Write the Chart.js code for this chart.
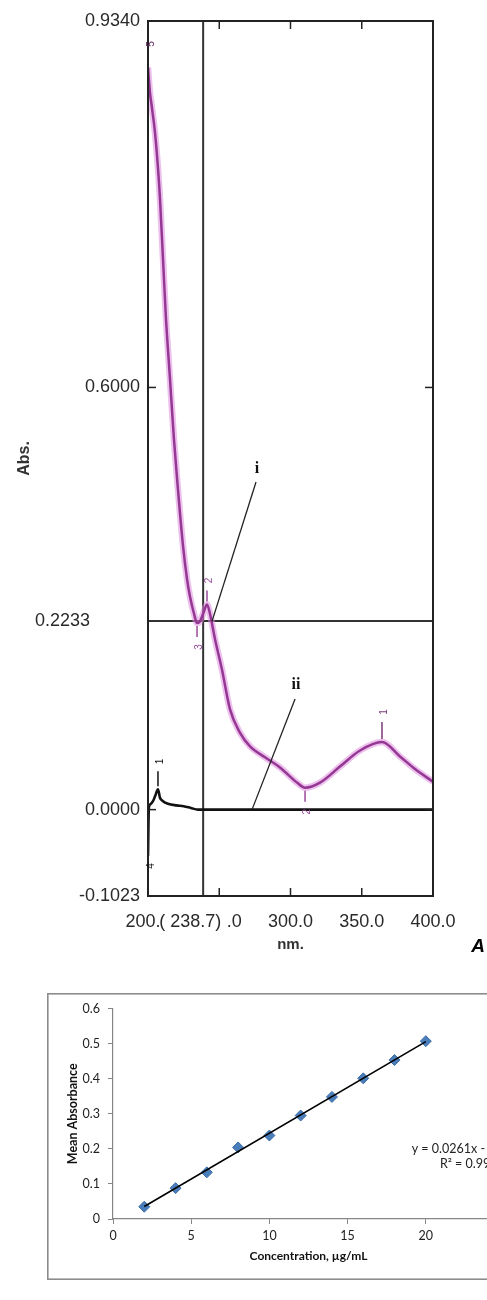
<!DOCTYPE html>
<html><head><meta charset="utf-8">
<script src="https://cdn.jsdelivr.net/npm/chart.js@4.4.1/dist/chart.umd.min.js"></script>
<style>
html,body{margin:0;padding:0;background:#fff;overflow:hidden;width:487px;height:1300px;position:relative;}
#c1{position:absolute;left:0;top:0;}
#c2{position:absolute;left:47px;top:993px;}
</style></head><body>
<canvas id="c1" width="487" height="960"></canvas>
<canvas id="c2" width="530" height="288"></canvas>
<script>
// ---------- Panel A: UV spectrum ----------
const specWavelength = [200.0,201.4,202.8,204.9,207.0,208.4,210.5,212.6,215.4,218.2,220.4,224.6,227.4,229.5,232.3,234.4,236.5,239.3,241.4,243.5,247.0,251.9,257.5,264.6,271.6,282.1,292.6,304.6,310.2,320.7,334.7,348.8,364.2,376.8,387.4,400.0];
const specSampleAbs  = [0.879,0.849,0.831,0.802,0.760,0.724,0.653,0.582,0.511,0.439,0.392,0.312,0.273,0.252,0.232,0.221,0.223,0.235,0.243,0.232,0.202,0.166,0.119,0.091,0.075,0.062,0.050,0.032,0.026,0.032,0.051,0.070,0.080,0.063,0.048,0.033];
const blankWavelength = [200.0,200.6,201.4,203.5,205.0,207.0,208.4,210.5,214.0,220.0,225.0,230.0,235.0,250.0,300.0,350.0,400.0];
const blankAbs        = [-0.055,0.002,0.006,0.010,0.016,0.024,0.014,0.010,0.007,0.005,0.004,0.002,0.000,0.000,0.000,0.000,0.000];
const specXTickValues = [200,250,300,350,400];
const specXTickLabels = ['200.0','250.0','300.0','350.0','400.0'];
const specYTickValues = [-0.1023,0,0.5,0.934];
const specYTickLabels = ['-0.1023','0.0000','0.6000','0.9340'];
const cursorWavelength = 238.7;
const cursorAbs = 0.2233;
const cursorXLabel = '( 238.7)';
const cursorYLabel = '0.2233';
const peakPicks = [
  {nm:200.6, abs:0.895, label:'5', dir:-1, color:'#6a2a6a', len:0},
  {nm:234.4, abs:0.221, label:'3', dir:1,  color:'#9a4a9a', len:14},
  {nm:241.4, abs:0.243, label:'2', dir:-1, color:'#9a4a9a', len:14},
  {nm:310.2, abs:0.026, label:'2', dir:1,  color:'#9a4a9a', len:14},
  {nm:364.2, abs:0.080, label:'1', dir:-1, color:'#7a3a7a', len:20},
  {nm:207.0, abs:0.024, label:'1', dir:-1, color:'#111',    len:18},
  {nm:201.0, abs:-0.055,label:'4', dir:1,  color:'#111',    len:0}
];
const curveNotes = [
  {text:'i',  tx:276.5, ty:0.404, x1:275.8, y1:0.388, x2:244.9, y2:0.223},
  {text:'ii', tx:303.9, ty:0.148, x1:303.2, y1:0.131, x2:273.0, y2:0.000}
];
const panelLetter = 'A';

// ---------- Calibration curve ----------
const concentrations = [2,4,6,8,10,12,14,16,18,20];
const meanAbsorbance = [0.035,0.088,0.133,0.204,0.238,0.295,0.348,0.401,0.453,0.507];
const trendSlope = 0.0261;
const trendIntercept = -0.0165;
const trendEquation = 'y = 0.0261x - 0.0165';
const trendR2 = 'R² = 0.9993';
const calibXTicks = [0,5,10,15,20,25];
const calibYTicks = [0,0.1,0.2,0.3,0.4,0.5,0.6];
const calibYTickLabels = ['0','0.1','0.2','0.3','0.4','0.5','0.6'];

const specFont = 'Liberation Sans, Arial, sans-serif';

const specPlugin = {
  id:'specPlugin',
  beforeDatasetsDraw(chart){
    const {ctx, chartArea:a, scales:{x,y}} = chart;
    ctx.save();
    ctx.strokeStyle='#333'; ctx.lineWidth=2;
    const cx = x.getPixelForValue(cursorWavelength);
    const cy = y.getPixelForValue(cursorAbs);
    ctx.beginPath(); ctx.moveTo(cx,a.top); ctx.lineTo(cx,a.bottom); ctx.stroke();
    ctx.beginPath(); ctx.moveTo(a.left,cy); ctx.lineTo(a.right,cy); ctx.stroke();
    ctx.restore();
  },
  afterDraw(chart){
    const {ctx, chartArea:a, scales:{x,y}} = chart;
    ctx.save();
    // frame
    ctx.strokeStyle='#222'; ctx.lineWidth=2;
    ctx.strokeRect(a.left,a.top,a.right-a.left,a.bottom-a.top);
    // inward tick marks
    ctx.lineWidth=1.5;
    specXTickValues.forEach(v=>{
      if(v===specXTickValues[0]||v===specXTickValues[specXTickValues.length-1]) return;
      const px=x.getPixelForValue(v);
      ctx.beginPath(); ctx.moveTo(px,a.top); ctx.lineTo(px,a.top+8); ctx.stroke();
      ctx.beginPath(); ctx.moveTo(px,a.bottom); ctx.lineTo(px,a.bottom-8); ctx.stroke();
    });
    specYTickValues.forEach(v=>{
      if(v===specYTickValues[0]||v===specYTickValues[specYTickValues.length-1]) return;
      const py=y.getPixelForValue(v);
      ctx.beginPath(); ctx.moveTo(a.left,py); ctx.lineTo(a.left+8,py); ctx.stroke();
      ctx.beginPath(); ctx.moveTo(a.right,py); ctx.lineTo(a.right-8,py); ctx.stroke();
    });
    // cursor labels
    const cx = x.getPixelForValue(cursorWavelength);
    const cy = y.getPixelForValue(cursorAbs);
    ctx.font='18px '+specFont;
    ctx.textBaseline='middle';
    const w = ctx.measureText(cursorXLabel).width;
    const ly = a.bottom + 26;
    const lx = cx - 13;
    ctx.fillStyle='#fff'; ctx.fillRect(lx-w/2+1, ly-12, w+5, 24);
    ctx.fillStyle='#2a2a2a'; ctx.textAlign='center'; ctx.fillText(cursorXLabel, lx, ly);
    ctx.textAlign='right'; ctx.fillText(cursorYLabel, a.left-58, cy);
    // peak picks
    ctx.font='10px '+specFont;
    peakPicks.forEach(p=>{
      const px=x.getPixelForValue(p.nm), py=y.getPixelForValue(p.abs);
      ctx.strokeStyle=p.color; ctx.fillStyle=p.color; ctx.lineWidth=1.5;
      if(p.len>0){
        ctx.beginPath(); ctx.moveTo(px,py+p.dir*3); ctx.lineTo(px,py+p.dir*p.len); ctx.stroke();
      }
      ctx.save();
      ctx.translate(px+2, py+p.dir*(p.len+10));
      ctx.rotate(-Math.PI/2);
      ctx.textAlign='center'; ctx.textBaseline='middle';
      ctx.fillText(p.label,0,0);
      ctx.restore();
    });
    // i / ii notes
    curveNotes.forEach(n=>{
      ctx.strokeStyle='#222'; ctx.lineWidth=1.3;
      ctx.beginPath();
      ctx.moveTo(x.getPixelForValue(n.x1), y.getPixelForValue(n.y1));
      ctx.lineTo(x.getPixelForValue(n.x2), y.getPixelForValue(n.y2));
      ctx.stroke();
      ctx.fillStyle='#111';
      ctx.font='bold 16px Liberation Serif, DejaVu Serif, serif';
      ctx.textAlign='center'; ctx.textBaseline='middle';
      ctx.fillText(n.text, x.getPixelForValue(n.tx), y.getPixelForValue(n.ty));
    });
    // panel letter
    ctx.fillStyle='#000';
    ctx.font='italic bold 19px '+specFont;
    ctx.textAlign='center'; ctx.textBaseline='middle';
    ctx.fillText(panelLetter, a.right+45, a.bottom+51);
    ctx.restore();
  }
};

new Chart(document.getElementById('c1'), {
  type:'line',
  data:{datasets:[
    {label:'i', data:specWavelength.map((w,i)=>({x:w,y:specSampleAbs[i]})), borderColor:'#943894', borderWidth:2.5, pointRadius:0, cubicInterpolationMode:'monotone', fill:false},
    {label:'i halo', data:specWavelength.map((w,i)=>({x:w,y:specSampleAbs[i]})), borderColor:'rgba(222,140,222,0.55)', borderWidth:6.5, pointRadius:0, cubicInterpolationMode:'monotone', fill:false},
    {label:'ii', data:blankWavelength.map((w,i)=>({x:w,y:blankAbs[i]})), borderColor:'#111', borderWidth:2.6, pointRadius:0, cubicInterpolationMode:'monotone', fill:false}
  ]},
  options:{
    responsive:false, animation:false, devicePixelRatio:1,
    layout:{padding:{left:0,top:21,right:54,bottom:4}},
    plugins:{legend:{display:false}, tooltip:{enabled:false}},
    scales:{
      x:{type:'linear', min:200, max:400,
        afterBuildTicks:s=>{s.ticks=specXTickValues.map(v=>({value:v}));},
        afterFit:s=>{s.height=60;},
        ticks:{autoSkip:false, maxRotation:0, padding:15, color:'#2a2a2a', font:{family:specFont,size:18},
          callback:(v,i)=>specXTickLabels[i]},
        grid:{display:false, drawTicks:false}, border:{display:false},
        title:{display:true, text:'nm.', color:'#333', font:{family:specFont,size:15,weight:'bold'}, padding:{top:0,bottom:2}}
      },
      y:{type:'linear', min:-0.1023, max:0.934,
        afterBuildTicks:s=>{s.ticks=specYTickValues.map(v=>({value:v}));},
        afterFit:s=>{s.width=148;},
        ticks:{autoSkip:false, padding:8, color:'#2a2a2a', font:{family:specFont,size:18},
          callback:(v,i)=>specYTickLabels[i]},
        grid:{display:false, drawTicks:false}, border:{display:false},
        title:{display:true, text:'Abs.', color:'#333', font:{family:specFont,size:16,weight:'bold'}, padding:{top:15,bottom:0}}
      }
    }
  },
  plugins:[specPlugin]
});

// ---------- calibration chart ----------
const calFont = 'Lato, Open Sans, sans-serif';
const calPlugin = {
  id:'calPlugin',
  beforeDraw(chart){
    const ctx=chart.ctx;
    ctx.save();
    ctx.strokeStyle='#8c8c8c'; ctx.lineWidth=1.6;
    ctx.strokeRect(0.8,0.8,chart.width-1.6,chart.height-2.6);
    ctx.restore();
  },
  afterDraw(chart){
    const {ctx, scales:{x,y}} = chart;
    ctx.save();
    ctx.fillStyle='#222';
    ctx.font='12.5px '+calFont;
    ctx.textBaseline='middle'; ctx.textAlign='left';
    ctx.fillText(trendEquation, x.getPixelForValue(19.1), y.getPixelForValue(0.2));
    ctx.fillText(trendR2, x.getPixelForValue(20.9), y.getPixelForValue(0.157));
    ctx.restore();
  }
};

new Chart(document.getElementById('c2'), {
  type:'scatter',
  data:{datasets:[
    {label:'Mean Absorbance', data:concentrations.map((c,i)=>({x:c,y:meanAbsorbance[i]})),
      pointStyle:'rectRot', pointRadius:5.5, backgroundColor:'#4A7EBB', borderColor:'#3C6DA8', borderWidth:1, order:1},
    {label:'Linear', type:'line',
      data:[concentrations[0], concentrations[concentrations.length-1]].map(c=>({x:c,y:trendSlope*c+trendIntercept})),
      borderColor:'#000', borderWidth:1.6, pointRadius:0, showLine:true, fill:false, order:0}
  ]},
  options:{
    responsive:false, animation:false, devicePixelRatio:1,
    layout:{padding:{left:0,top:14,right:73,bottom:0}},
    plugins:{legend:{display:false}, tooltip:{enabled:false}},
    scales:{
      x:{type:'linear', min:0, max:25,
        afterBuildTicks:s=>{s.ticks=calibXTicks.map(v=>({value:v}));},
        afterFit:s=>{s.height=62;},
        ticks:{color:'#222', padding:4, font:{family:calFont,size:12.5}, maxRotation:0, autoSkip:false},
        grid:{drawOnChartArea:false, drawTicks:true, tickLength:5, color:'#868686', lineWidth:1},
        border:{color:'#868686', width:1.2},
        title:{display:true, text:'Concentration, µg/mL', color:'#111', font:{family:calFont,size:12,weight:'bold'}, padding:{top:0,bottom:18}}
      },
      y:{type:'linear', min:0, max:0.6,
        afterBuildTicks:s=>{s.ticks=calibYTicks.map(v=>({value:v}));},
        afterFit:s=>{s.width=66;},
        ticks:{color:'#222', padding:8, font:{family:calFont,size:12.5}, autoSkip:false, callback:(v,i)=>calibYTickLabels[i]},
        grid:{drawOnChartArea:false, drawTicks:true, tickLength:5, color:'#868686', lineWidth:1},
        border:{color:'#868686', width:1.2},
        title:{display:true, text:'Mean Absorbance', color:'#111', font:{family:calFont,size:12.5,weight:'bold'}, padding:{top:18,bottom:0}}
      }
    }
  },
  plugins:[calPlugin]
});
</script>
</body></html>
